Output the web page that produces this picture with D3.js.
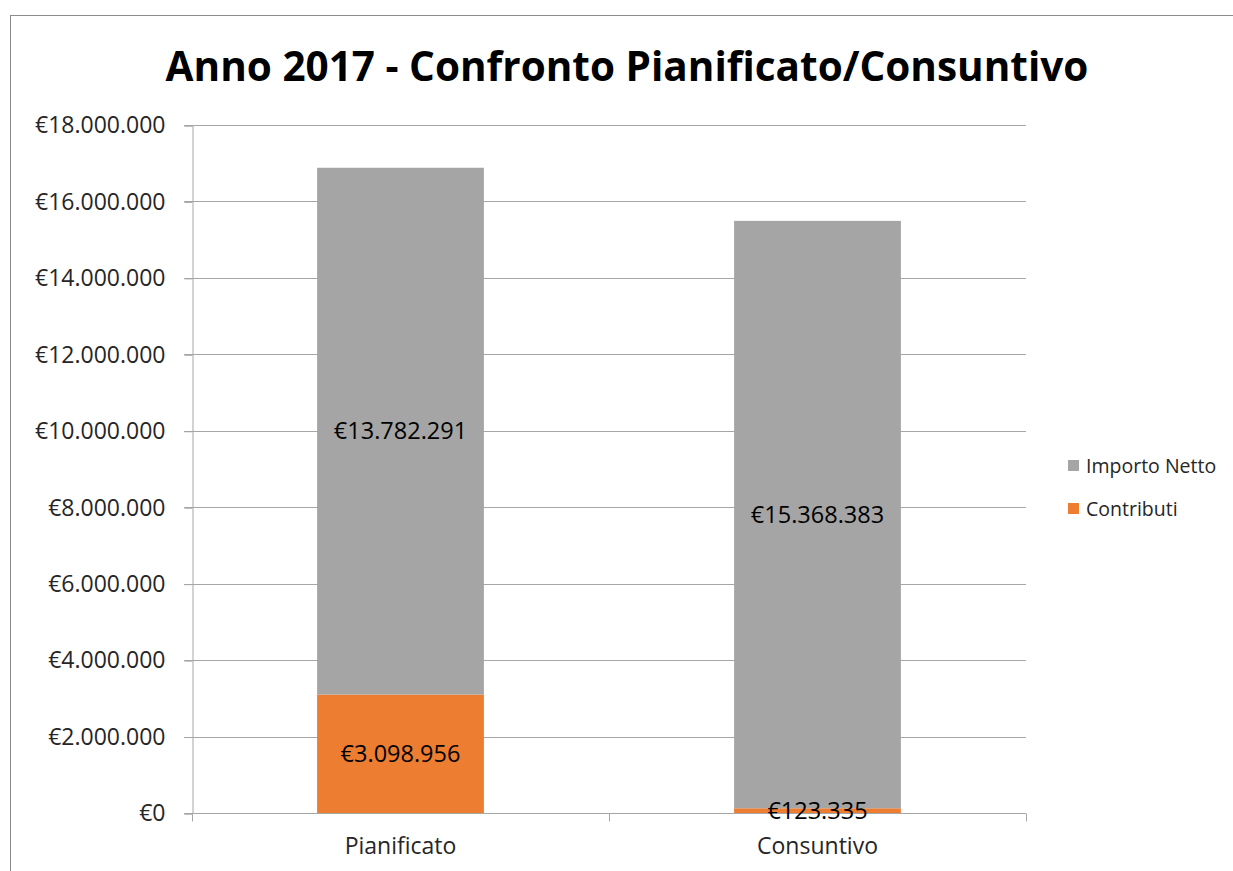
<!DOCTYPE html>
<html lang="it">
<head>
<meta charset="utf-8">
<title>Anno 2017 - Confronto Pianificato/Consuntivo</title>
<script src="https://d3js.org/d3.v7.min.js"></script>
<style>
  body { margin: 0; background: #fff; }
  svg { font-family: "Open Sans", "Liberation Sans", sans-serif; }
</style>
</head>
<body>
<svg id="chart" width="1233" height="871"></svg>
<script>
// data
var categories = ["Pianificato", "Consuntivo"];
var contributi = [3098956, 123335];
var importoNetto = [13782291, 15368383];
var seriesNames = ["Importo Netto", "Contributi"];
var yTicks = [0, 2000000, 4000000, 6000000, 8000000, 10000000, 12000000, 14000000, 16000000, 18000000];

var colors = { "Contributi": "#ED7D31", "Importo Netto": "#A5A5A5" };

var svg = d3.select("#chart");
var plotL = 192, plotR = 1026, plotT = 125, plotB = 813;

var fmt = d3.formatLocale({ decimal: ",", thousands: ".", grouping: [3], currency: ["€", ""] }).format("$,.0f");

// outer border
svg.append("rect").attr("x", 10.5).attr("y", 15.5).attr("width", 1240).attr("height", 900)
  .attr("fill", "none").attr("stroke", "#8c8c8c").attr("stroke-width", 1);

svg.append("text").attr("x", 627).attr("y", 81).attr("text-anchor", "middle")
  .attr("font-size", 40.5).attr("font-weight", "bold").attr("fill", "#000")
  .text("Anno 2017 - Confronto Pianificato/Consuntivo");

var x = d3.scaleBand().domain(categories).range([plotL, plotR]).paddingInner(0.6).paddingOuter(0.3);
var y = d3.scaleLinear().domain([0, 18000000]).range([plotB, plotT]);

// gridlines
svg.append("g").selectAll("line").data(yTicks.slice(1)).enter().append("line")
  .attr("x1", plotL - 8).attr("x2", plotR)
  .attr("y1", function(d) { return Math.round(y(d)) + 0.5; })
  .attr("y2", function(d) { return Math.round(y(d)) + 0.5; })
  .attr("stroke", "#a6a6a6").attr("stroke-width", 1);

// y axis
var yAxis = svg.append("g").attr("transform", "translate(" + (plotL + 0.5) + ",0.5)")
  .call(d3.axisLeft(y).tickValues(yTicks).tickFormat(fmt).tickSize(8).tickPadding(19));
yAxis.select(".domain").attr("stroke", "#a6a6a6");
yAxis.selectAll(".tick line").attr("stroke", "#a6a6a6");
yAxis.selectAll(".tick text").attr("font-size", 23).attr("fill", "#262626")
  .attr("font-family", "'Open Sans', sans-serif");

// stacked bars
var rows = categories.map(function(c, i) {
  return { cat: c, "Contributi": contributi[i], "Importo Netto": importoNetto[i] };
});
var stack = d3.stack().keys(["Contributi", "Importo Netto"])(rows);

var layers = svg.append("g").selectAll("g").data(stack).enter().append("g")
  .attr("fill", function(d) { return colors[d.key]; });
layers.selectAll("rect").data(function(d) { return d; }).enter().append("rect")
  .attr("x", function(d) { return x(d.data.cat); })
  .attr("width", x.bandwidth())
  .attr("y", function(d) { return y(d[1]); })
  .attr("height", function(d) { return y(d[0]) - y(d[1]); });

// x axis
var xAxis = svg.append("g").attr("transform", "translate(0," + (plotB + 0.5) + ")");
xAxis.append("line").attr("x1", plotL - 8).attr("x2", plotR).attr("stroke", "#a6a6a6");
var bounds = [plotL, (plotL + plotR) / 2, plotR];
xAxis.selectAll(".tk").data(bounds).enter().append("line").attr("class", "tk")
  .attr("x1", function(d) { return Math.round(d) + 0.5; }).attr("x2", function(d) { return Math.round(d) + 0.5; })
  .attr("y1", 0).attr("y2", 8).attr("stroke", "#a6a6a6");
xAxis.selectAll("text").data(categories).enter().append("text")
  .attr("x", function(d) { return x(d) + x.bandwidth() / 2; })
  .attr("y", 40).attr("text-anchor", "middle").attr("font-size", 23).attr("fill", "#262626")
  .text(function(d) { return d; });

// data labels, on top of all bars
var labelData = [];
stack.forEach(function(s) { s.forEach(function(p) { labelData.push(p); }); });
svg.append("g").selectAll("text").data(labelData).enter().append("text")
  .attr("x", function(d) { return x(d.data.cat) + x.bandwidth() / 2; })
  .attr("y", function(d) { return (y(d[0]) + y(d[1])) / 2 + 8; })
  .attr("text-anchor", "middle").attr("font-size", 23.5).attr("fill", "#000")
  .text(function(d) { return fmt(d[1] - d[0]); });

// legend
var legend = svg.append("g").selectAll("g").data(seriesNames).enter().append("g")
  .attr("transform", function(d, i) { return "translate(1068," + (466 + i * 43) + ")"; });
legend.append("rect").attr("x", 0).attr("y", -6).attr("width", 11).attr("height", 11)
  .attr("fill", function(d) { return colors[d]; });
legend.append("text").attr("x", 18).attr("y", 7).attr("font-size", 19.5).attr("fill", "#262626")
  .text(function(d) { return d; });
</script>
</body>
</html>
